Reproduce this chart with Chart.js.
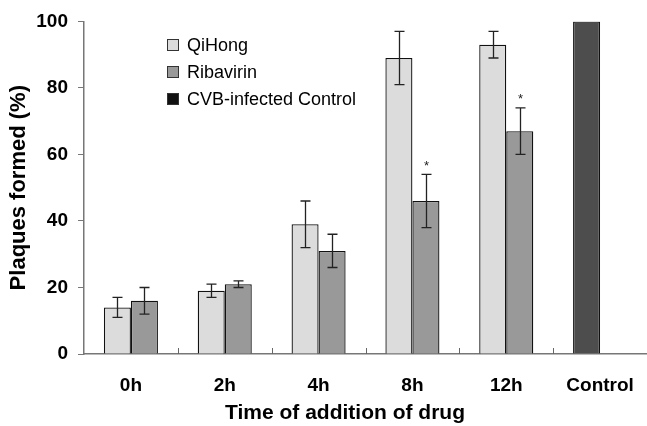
<!DOCTYPE html>
<html>
<head>
<meta charset="utf-8">
<script src="https://cdn.jsdelivr.net/npm/chart.js@4"></script>
<style>
  html, body { margin: 0; padding: 0; background: #fff; }
  #wrap { width: 647px; height: 426px; }
</style>
</head>
<body>
<div id="wrap"><canvas id="chart" width="647" height="426"></canvas></div>
<script>
// --- dados ---
const categories = ['0h', '2h', '4h', '8h', '12h', 'Control'];
const qihong = [14, 19, 39, 89, 93, null];
const qihongErr = [3, 2, 7, 8, 4, null];
const ribavirin = [16, 21, 31, 46, 67, null];
const ribavirinErr = [4, 1, 5, 8, 7, null];
const control = [null, null, null, null, null, 100];
const significant = [false, false, false, true, true, false]; // asteriscos no Ribavirin
const yTicks = [0, 20, 40, 60, 80, 100];
const xTitle = 'Time of addition of drug';

const FONT = 'Arial, "Liberation Sans", sans-serif';

// --- plugin: barras de erro, asteriscos, ticks do eixo x, legenda, título x ---
const extras = {
    id: 'extras',
    afterDatasetsDraw(chart) {
        const ctx = chart.ctx;
        const y = chart.scales.y;
        const area = chart.chartArea;

        const errSets = [[0, qihong, qihongErr], [1, ribavirin, ribavirinErr]];
        ctx.save();
        ctx.strokeStyle = '#222';
        ctx.lineWidth = 1.3;
        errSets.forEach(([idx, vals, errs]) => {
            const meta = chart.getDatasetMeta(idx);
            meta.data.forEach((bar, i) => {
                if (vals[i] == null || errs[i] == null) return;
                const x = Math.round(bar.x) + 0.5;
                const top = y.getPixelForValue(vals[i] + errs[i]);
                const bot = y.getPixelForValue(vals[i] - errs[i]);
                ctx.beginPath();
                ctx.moveTo(x, top); ctx.lineTo(x, bot);
                ctx.moveTo(x - 5, top); ctx.lineTo(x + 5, top);
                ctx.moveTo(x - 5, bot); ctx.lineTo(x + 5, bot);
                ctx.stroke();
                if (idx === 1 && significant[i]) {
                    ctx.fillStyle = '#222';
                    ctx.font = '13px ' + FONT;
                    ctx.textAlign = 'center';
                    ctx.textBaseline = 'middle';
                    ctx.fillText('*', x, top - 8);
                }
            });
        });

        // pequenos ticks entre categorias (para cima)
        const xs = chart.scales.x;
        ctx.strokeStyle = '#666';
        ctx.lineWidth = 1;
        for (let i = 1; i < categories.length; i++) {
            const px = Math.round((xs.getPixelForValue(i - 1) + xs.getPixelForValue(i)) / 2) + 0.5;
            ctx.beginPath();
            ctx.moveTo(px, area.bottom);
            ctx.lineTo(px, area.bottom - 6);
            ctx.stroke();
        }

        // legenda dentro da área do gráfico
        const items = [
            ['QiHong', '#dcdcdc'],
            ['Ribavirin', '#999999'],
            ['CVB-infected Control', '#111111']
        ];
        ctx.font = '18px ' + FONT;
        ctx.textAlign = 'left';
        ctx.textBaseline = 'middle';
        items.forEach(([label, color], k) => {
            const cy = 45 + k * 27;
            ctx.fillStyle = color;
            ctx.fillRect(167.5, cy - 5.5, 11, 11);
            ctx.strokeStyle = '#333';
            ctx.strokeRect(167.5, cy - 5.5, 11, 11);
            ctx.fillStyle = '#000';
            ctx.fillText(label, 187, cy + 1);
        });

        // título do eixo x (um pouco à esquerda do centro, como no original)
        ctx.font = 'bold 21px ' + FONT;
        ctx.textAlign = 'center';
        ctx.textBaseline = 'middle';
        ctx.fillStyle = '#000';
        ctx.fillText(xTitle, 345, 413);
        ctx.restore();
    }
};

new Chart(document.getElementById('chart'), {
    type: 'bar',
    data: {
        labels: categories,
        datasets: [
            { label: 'QiHong', data: qihong, backgroundColor: '#dcdcdc', borderColor: '#111', borderWidth: 1.3, stack: 'a' },
            { label: 'Ribavirin', data: ribavirin, backgroundColor: '#999999', borderColor: '#111', borderWidth: 1.3, stack: 'b' },
            { label: 'CVB-infected Control', data: control, backgroundColor: '#4d4d4d', borderColor: '#111', borderWidth: 1.3, stack: 'a' }
        ]
    },
    options: {
        responsive: false,
        animation: false,
        categoryPercentage: 0.576,
        barPercentage: 1,
        layout: { padding: { top: 8, right: 0, bottom: 0, left: 0 } },
        scales: {
            x: {
                grid: { display: true, drawOnChartArea: false, drawTicks: true, tickLength: 20, color: 'rgba(0,0,0,0)' },
                border: { color: '#777', width: 1.5 },
                ticks: { color: '#000', font: { family: FONT, size: 19, weight: 'bold' }, padding: 0 },
                afterFit: (scale) => { scale.height = 72; }
            },
            y: {
                stacked: true,
                min: 0,
                max: 100,
                afterBuildTicks: (scale) => { scale.ticks = yTicks.map(v => ({ value: v })); },
                grid: { drawOnChartArea: false, tickLength: 6, color: '#777' },
                border: { color: '#777', width: 1.5 },
                ticks: { color: '#000', font: { family: FONT, size: 19, weight: 'bold' }, padding: 10 },
                title: { display: true, text: 'Plaques formed (%)', color: '#000',
                         font: { family: FONT, size: 22, weight: 'bold' }, padding: { top: 6, bottom: 0 } },
                afterFit: (scale) => { scale.width = 84; }
            }
        },
        plugins: {
            legend: { display: false },
            tooltip: { enabled: false }
        }
    },
    plugins: [extras]
});
</script>
</body>
</html>
